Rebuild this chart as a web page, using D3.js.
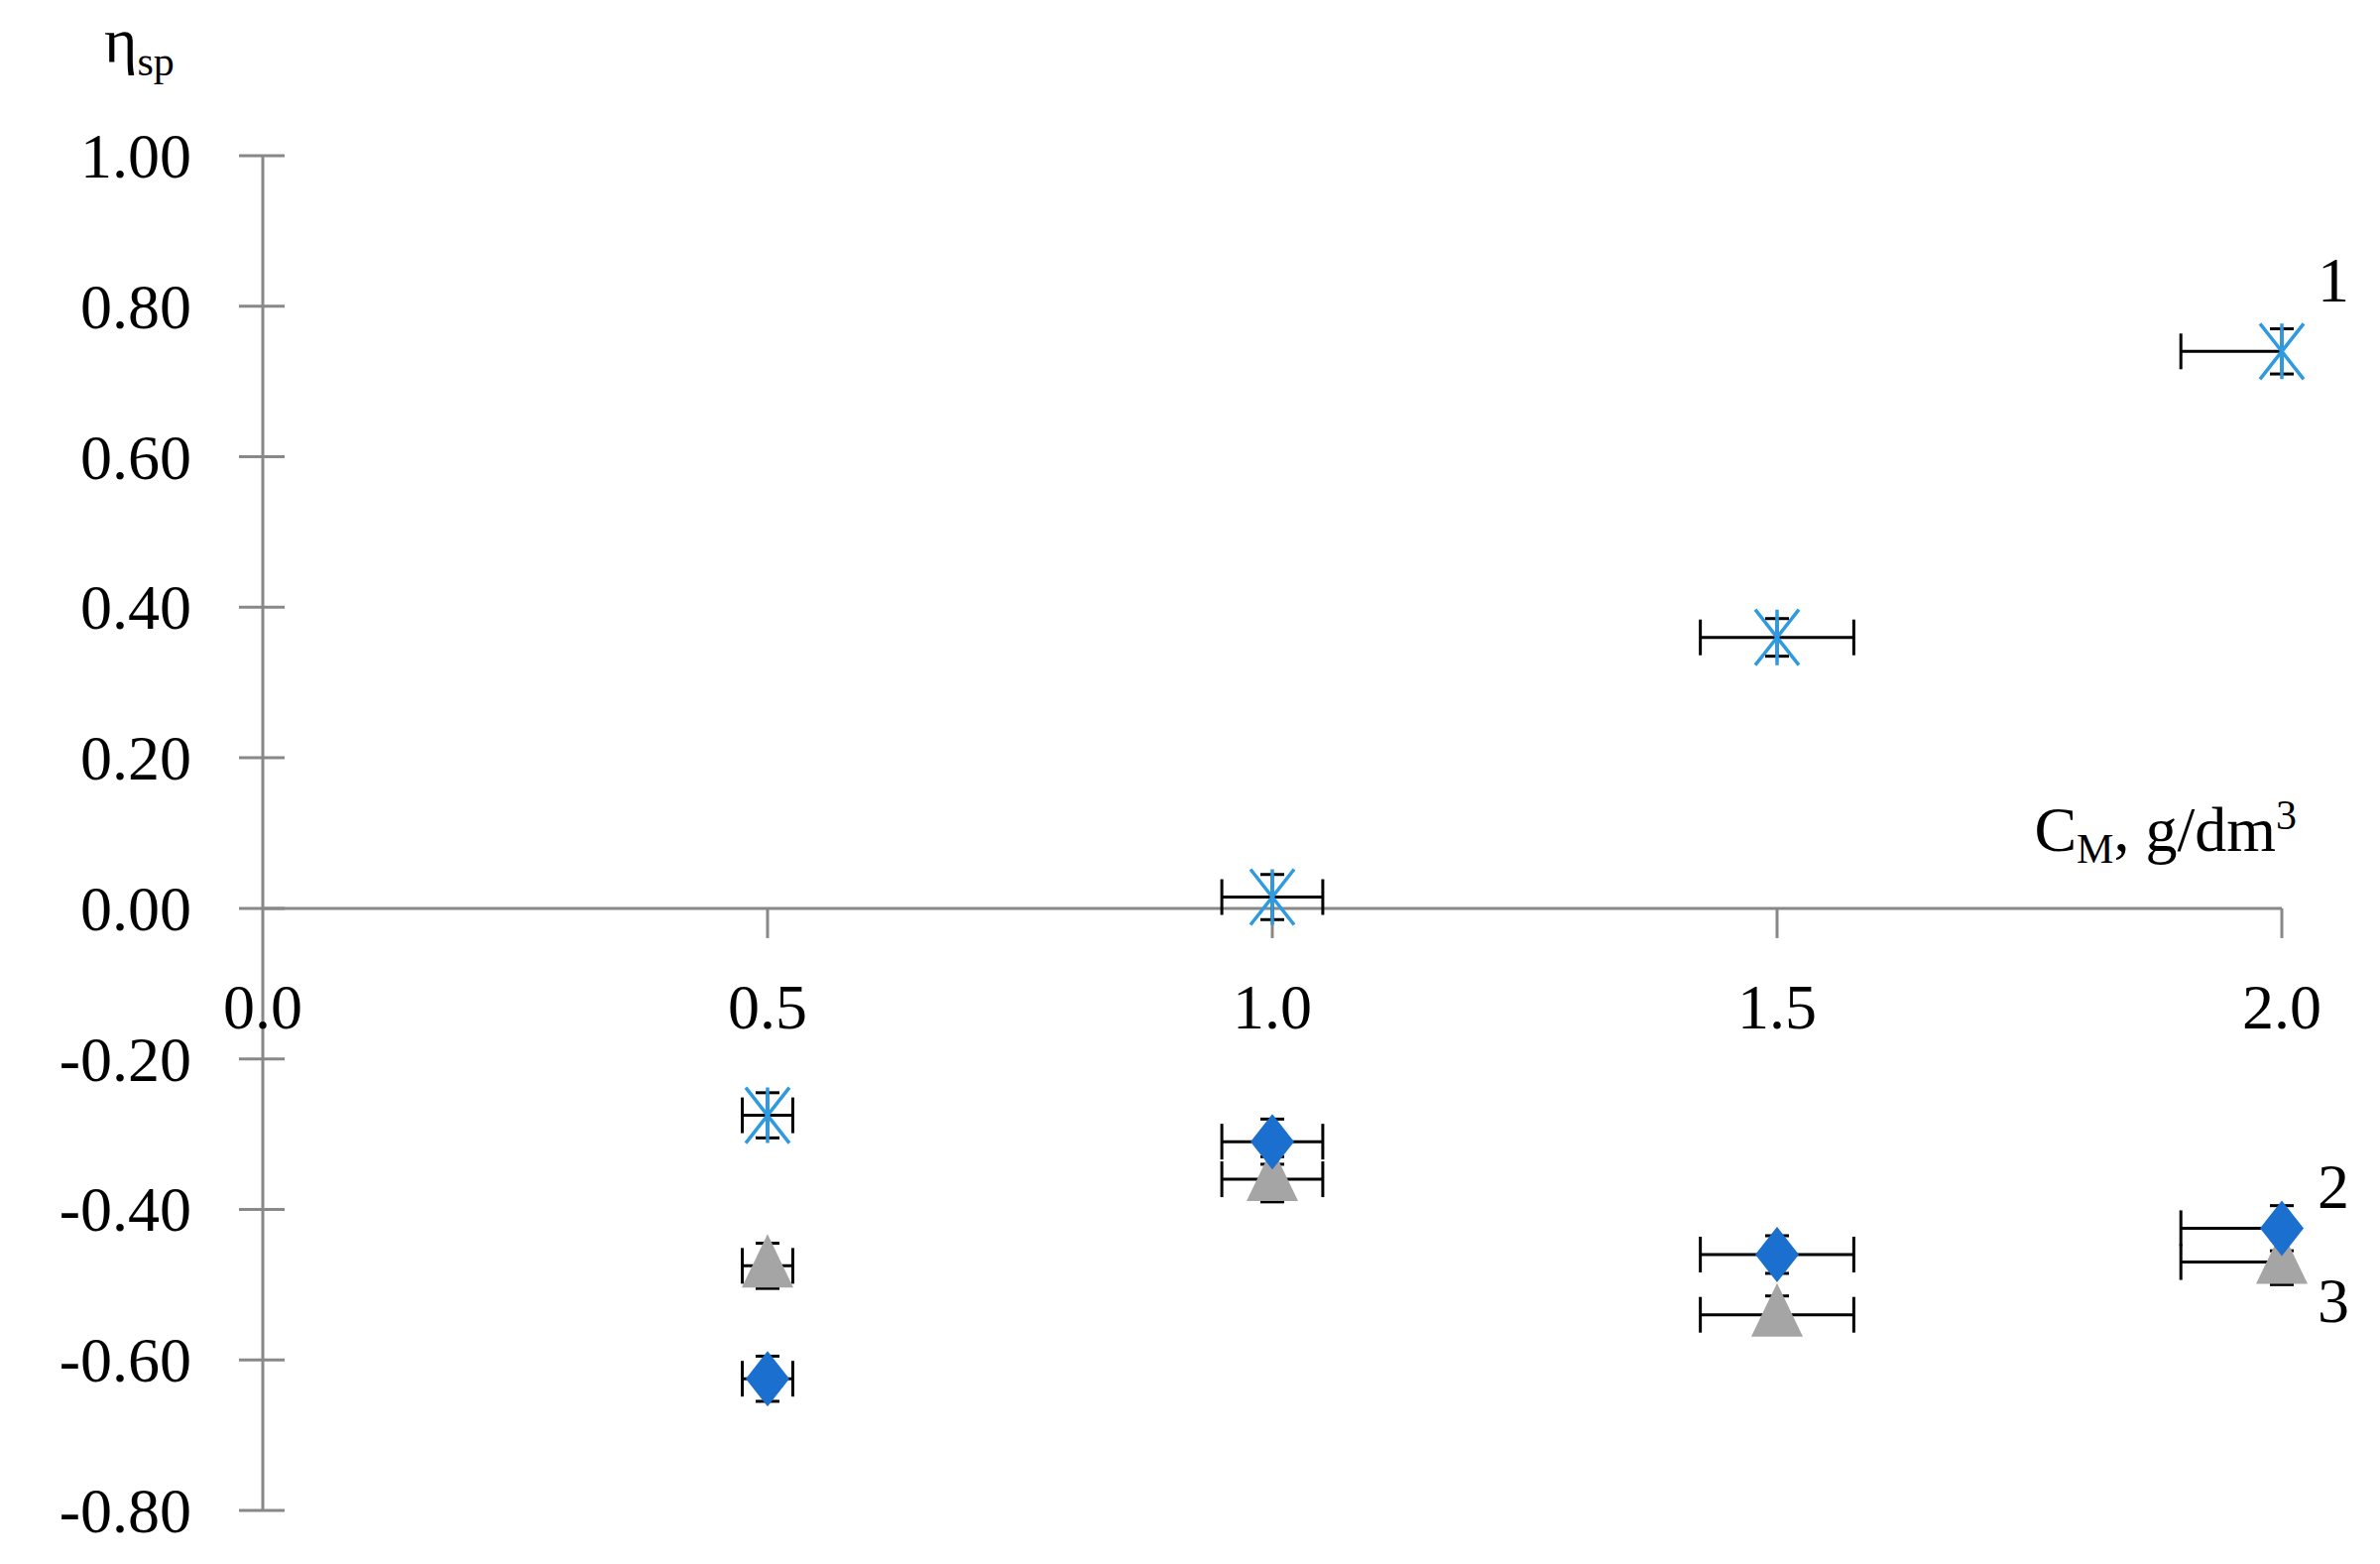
<!DOCTYPE html><html><head><script src="https://cdn.jsdelivr.net/npm/d3@7"></script>
<style>body{margin:0;background:#fff}text{font-family:"Liberation Serif",serif}</style></head><body>
<svg id="c" width="2400" height="1577"></svg>
<script>
const xs=[0.5,1.0,1.5,2.0];
const s1=[-0.275,0.015,0.36,0.74];
const s2=[-0.625,-0.31,-0.46,-0.425];
const s3=[-0.475,-0.36,-0.54,-0.47];
const xerrL=[0.025,0.05,0.076,0.1];
const xerrR=[0.025,0.05,0.076,0];
const yerr=[0.03,0.03,0.025,0.03];
const yTicks=[1,0.8,0.6,0.4,0.2,0,-0.2,-0.4,-0.6,-0.8];
const xTicks=[0,0.5,1.0,1.5,2.0];
const svg=d3.select("#c");
const x=d3.scaleLinear().domain([0,2]).range([265,2301]);
const y=d3.scaleLinear().domain([-0.8,1]).range([1523,157]);
const g="#888";
svg.append("line").attr("x1",x(0)).attr("x2",x(0)).attr("y1",y(1)).attr("y2",y(-0.8)).attr("stroke",g).attr("stroke-width",3);
svg.append("line").attr("x1",x(0)).attr("x2",x(2)).attr("y1",y(0)).attr("y2",y(0)).attr("stroke",g).attr("stroke-width",3);
yTicks.forEach(t=>{
 svg.append("line").attr("x1",x(0)-24).attr("x2",x(0)+22).attr("y1",y(t)).attr("y2",y(t)).attr("stroke",g).attr("stroke-width",3);
 svg.append("text").attr("x",x(0)-72).attr("y",y(t)+22).attr("text-anchor","end").attr("font-size",64).text(t.toFixed(2));
});
xTicks.forEach(t=>{
 if(t>0)svg.append("line").attr("x1",x(t)).attr("x2",x(t)).attr("y1",y(0)).attr("y2",y(0)+30).attr("stroke",g).attr("stroke-width",3);
 svg.append("text").attr("x",x(t)).attr("y",1037).attr("text-anchor","middle").attr("font-size",64).text(t.toFixed(1));
});
const yl=svg.append("text").attr("x",105).attr("y",62).attr("font-size",64).text("η");
yl.append("tspan").attr("font-size",42).attr("dy",14).text("sp");
const xl=svg.append("text").attr("x",2316).attr("y",858).attr("text-anchor","end").attr("font-size",64).text("C");
xl.append("tspan").attr("font-size",42).attr("dy",12).text("M");
xl.append("tspan").attr("dy",-12).text(", g/dm");
xl.append("tspan").attr("font-size",42).attr("dy",-22).text("3");
function errs(vals){
 vals.forEach((v,i)=>{
  const cx=x(xs[i]),cy=y(v);
  const e=svg.append("g").attr("stroke","#000").attr("stroke-width",3).attr("fill","none");
  e.append("line").attr("x1",x(xs[i]-xerrL[i])).attr("x2",x(xs[i]+xerrR[i])).attr("y1",cy).attr("y2",cy);
  e.append("line").attr("x1",x(xs[i]-xerrL[i])).attr("x2",x(xs[i]-xerrL[i])).attr("y1",cy-18).attr("y2",cy+18);
  if(xerrR[i]>0)e.append("line").attr("x1",x(xs[i]+xerrR[i])).attr("x2",x(xs[i]+xerrR[i])).attr("y1",cy-18).attr("y2",cy+18);
  e.append("line").attr("x1",cx).attr("x2",cx).attr("y1",y(v+yerr[i])).attr("y2",y(v-yerr[i]));
  [v+yerr[i],v-yerr[i]].forEach(w=>e.append("line").attr("x1",cx-12).attr("x2",cx+12).attr("y1",y(w)).attr("y2",y(w)));
 });
}
errs(s3);errs(s2);errs(s1);
s3.forEach((v,i)=>{const cx=x(xs[i]),cy=y(v);
 svg.append("path").attr("d",`M${cx},${cy-32}L${cx+26},${cy+22}L${cx-26},${cy+22}Z`).attr("fill","#a5a5a5");});
s2.forEach((v,i)=>{const cx=x(xs[i]),cy=y(v);
 svg.append("path").attr("d",`M${cx},${cy-28}L${cx+22},${cy}L${cx},${cy+28}L${cx-22},${cy}Z`).attr("fill","#1a6fcf");});
s1.forEach((v,i)=>{const cx=x(xs[i]),cy=y(v);
 svg.append("path").attr("d",`M${cx-22},${cy-28}L${cx+22},${cy+28}M${cx+22},${cy-28}L${cx-22},${cy+28}M${cx},${cy-28}L${cx},${cy+28}`).attr("stroke","#2e9be0").attr("stroke-width",3.5);});
[["1",s1[3],-70],["2",s2[3],-40],["3",s3[3],40]].forEach(([t,v,dy])=>{
 svg.append("text").attr("x",x(2)+52).attr("y",y(v)+dy+20).attr("text-anchor","middle").attr("font-size",64).text(t);});
</script></body></html>
